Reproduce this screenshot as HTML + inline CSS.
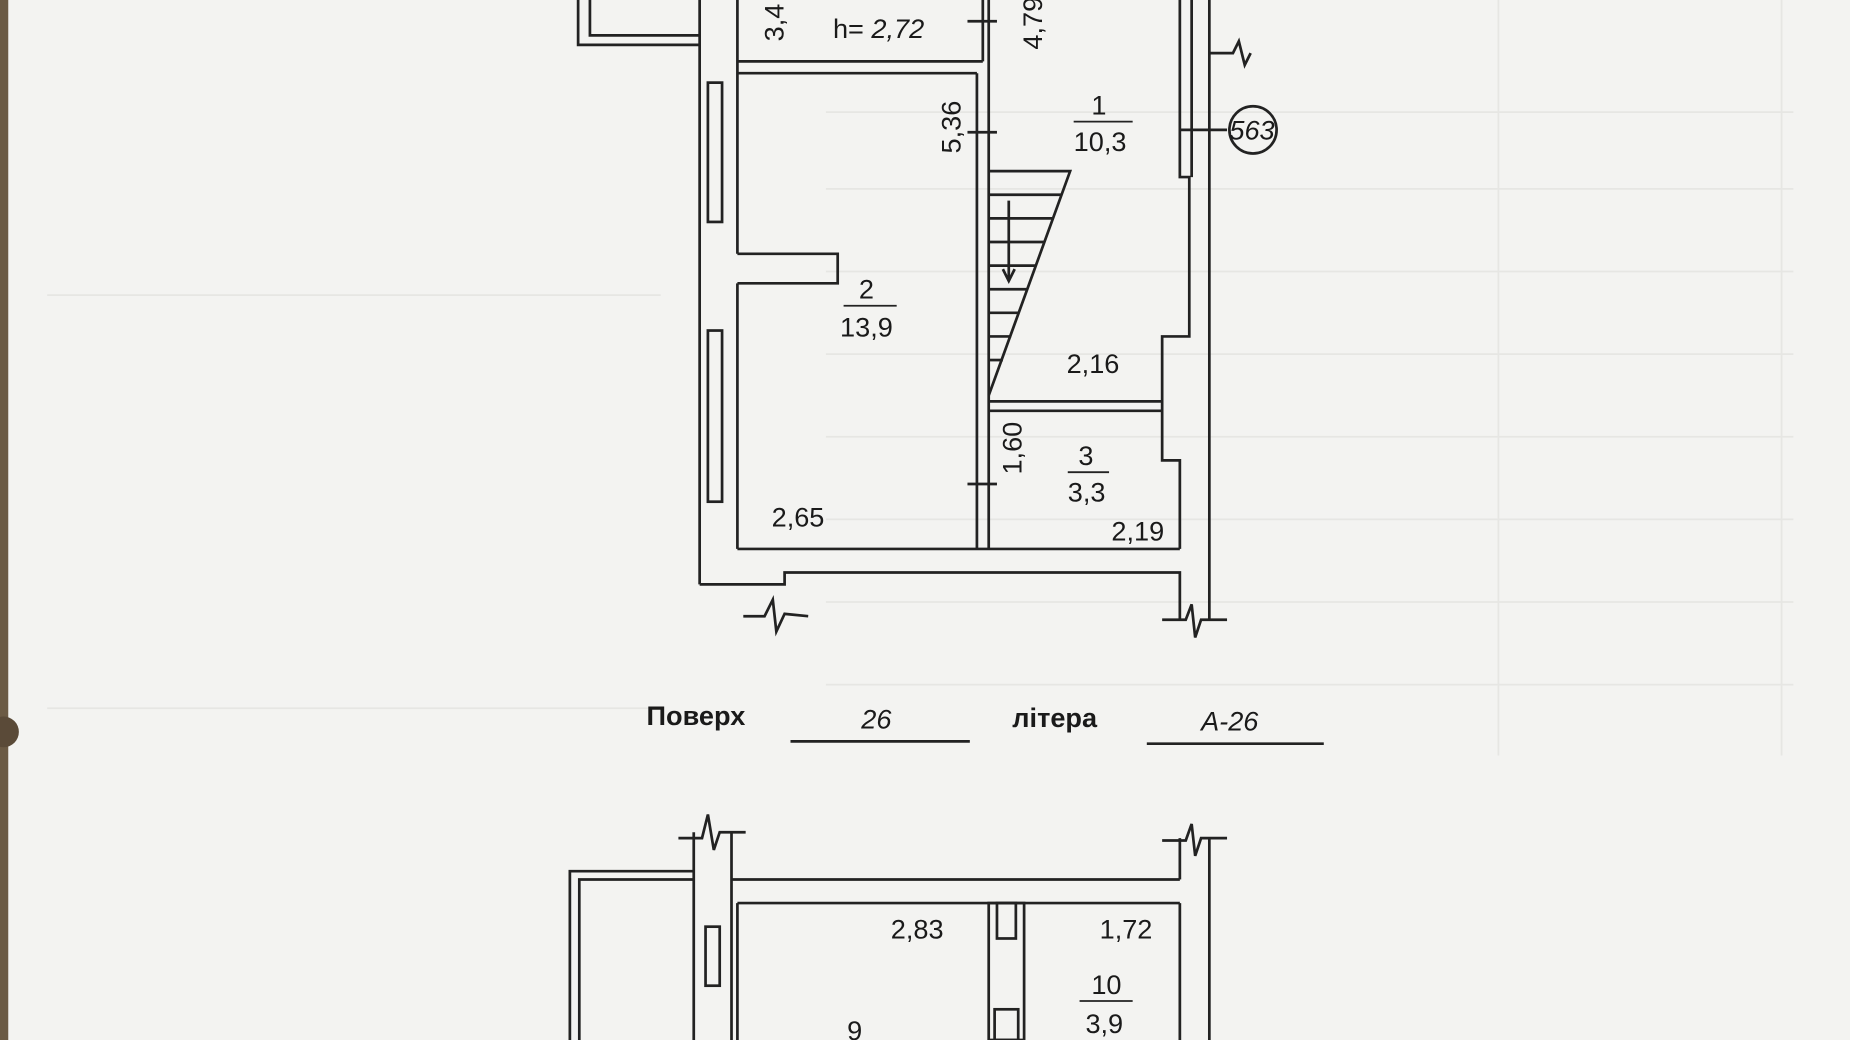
<!DOCTYPE html>
<html><head><meta charset="utf-8"><style>
html,body{margin:0;padding:0;background:#f3f3f1;}
svg{display:block}
text{font-family:"Liberation Sans",sans-serif;fill:#1a1a1a}
</style></head><body>
<svg width="1850" height="1040" viewBox="0 0 1568 881" preserveAspectRatio="none" xmlns="http://www.w3.org/2000/svg">
<rect width="1568" height="881" fill="#f3f3f1"/>
<g stroke="#e6e6e3" stroke-width="1.5" fill="none">
<line x1="700" y1="95" x2="1520" y2="95"/><line x1="700" y1="160" x2="1520" y2="160"/>
<line x1="700" y1="230" x2="1520" y2="230"/><line x1="700" y1="300" x2="1520" y2="300"/>
<line x1="700" y1="370" x2="1520" y2="370"/><line x1="700" y1="440" x2="1520" y2="440"/>
<line x1="700" y1="510" x2="1520" y2="510"/><line x1="700" y1="580" x2="1520" y2="580"/>
<line x1="1270" y1="0" x2="1270" y2="640"/><line x1="1510" y1="0" x2="1510" y2="640"/>
<line x1="40" y1="250" x2="560" y2="250"/><line x1="40" y1="600" x2="560" y2="600"/>
</g>
<rect x="0" y="0" width="7" height="881" fill="#6b5a44"/>
<circle cx="3" cy="620" r="13" fill="#5a4a38"/>
<g stroke="#222" stroke-width="2.3" fill="none">
<polyline points="490,0 490,38 593,38"/><polyline points="500,0 500,30 593,30"/>
<line x1="593" y1="0" x2="593" y2="495"/><line x1="625" y1="0" x2="625" y2="215"/>
<line x1="625" y1="240" x2="625" y2="465"/>
<rect x="600" y="70" width="12" height="118"/><rect x="600" y="280" width="12" height="145"/>
<polyline points="625,215 710,215 710,240 625,240"/>
<line x1="625" y1="52" x2="833" y2="52"/><line x1="625" y1="62" x2="828" y2="62"/>
<line x1="833" y1="0" x2="833" y2="52"/>
<line x1="828" y1="62" x2="828" y2="465"/><line x1="838" y1="0" x2="838" y2="465"/>
<line x1="625" y1="465" x2="1000" y2="465"/>
<polyline points="593,495 665,495 665,485 1000,485 1000,525"/>
<polyline points="630,522 648,522 655,508 658,535 665,520 685,522"/>
<polyline points="985,525 1005,525 1010,512 1013,540 1018,525 1040,525"/>
<polyline points="1000,0 1000,150 1008,150 1008,285 985,285 985,390 1000,390 1000,465"/>
<line x1="1025" y1="0" x2="1025" y2="525"/>
<line x1="1010" y1="0" x2="1010" y2="150"/>
<polyline points="1025,45 1045,45 1050,35 1055,55 1060,45"/>
<polyline points="838,145 907,145 838,335"/>
<line x1="855" y1="170" x2="855" y2="238"/><polyline points="850,228 855,238 860,228"/>
<line x1="838" y1="165" x2="900" y2="165"/><line x1="838" y1="185" x2="892" y2="185"/>
<line x1="838" y1="205" x2="885" y2="205"/><line x1="838" y1="225" x2="878" y2="225"/>
<line x1="838" y1="245" x2="871" y2="245"/><line x1="838" y1="265" x2="864" y2="265"/>
<line x1="838" y1="285" x2="857" y2="285"/><line x1="838" y1="305" x2="850" y2="305"/>
<line x1="838" y1="340" x2="985" y2="340"/><line x1="838" y1="348" x2="985" y2="348"/>
<line x1="820" y1="18" x2="845" y2="18"/><line x1="820" y1="112" x2="845" y2="112"/>
<line x1="820" y1="410" x2="845" y2="410"/><line x1="1000" y1="110" x2="1040" y2="110"/>
<circle cx="1062" cy="110" r="20"/>
<line x1="670" y1="628" x2="822" y2="628"/><line x1="972" y1="630" x2="1122" y2="630"/>
<polyline points="483,881 483,738 588,738"/><polyline points="491,881 491,745 588,745"/>
<line x1="588" y1="705" x2="588" y2="881"/><line x1="620" y1="705" x2="620" y2="881"/>
<polyline points="575,710 595,710 600,690 605,720 610,705 632,705"/>
<line x1="620" y1="745" x2="1000" y2="745"/><line x1="625" y1="765" x2="1000" y2="765"/>
<line x1="625" y1="765" x2="625" y2="881"/>
<rect x="598" y="785" width="12" height="50"/>
<line x1="1000" y1="710" x2="1000" y2="745"/><line x1="1025" y1="710" x2="1025" y2="881"/>
<polyline points="985,712 1005,712 1010,698 1013,725 1018,710 1040,710"/>
<line x1="1000" y1="765" x2="1000" y2="881"/>
<rect x="838" y="765" width="30" height="116"/><rect x="845" y="765" width="16" height="30"/>
<rect x="843" y="855" width="20" height="26"/>
</g>
<g font-size="23">
<text x="706" y="32">h= <tspan font-style="italic">2,72</tspan></text>
<text x="664" y="35" transform="rotate(-90 664 35)">3,4</text>
<text x="883" y="42" transform="rotate(-90 883 42)">4,79</text>
<text x="814" y="130" transform="rotate(-90 814 130)">5,36</text>
<text x="925" y="97">1</text><line x1="910" y1="103" x2="960" y2="103" stroke="#222" stroke-width="1.5"/>
<text x="910" y="128">10,3</text>
<text x="1042" y="118" font-style="italic">563</text>
<text x="728" y="253">2</text><line x1="715" y1="259" x2="760" y2="259" stroke="#222" stroke-width="1.5"/>
<text x="712" y="285">13,9</text>
<text x="904" y="316">2,16</text>
<text x="866" y="402" transform="rotate(-90 866 402)">1,60</text>
<text x="914" y="394">3</text><line x1="905" y1="400" x2="940" y2="400" stroke="#222" stroke-width="1.5"/>
<text x="905" y="425">3,3</text>
<text x="654" y="446">2,65</text>
<text x="942" y="458">2,19</text>
<text x="548" y="614" font-weight="600">Поверх</text>
<text x="730" y="617" font-style="italic">26</text>
<text x="858" y="616" font-weight="600">літера</text>
<text x="1018" y="619" font-style="italic">А-26</text>
<text x="755" y="795">2,83</text>
<text x="932" y="795">1,72</text>
<text x="925" y="842">10</text><line x1="915" y1="848" x2="960" y2="848" stroke="#222" stroke-width="1.5"/>
<text x="920" y="875">3,9</text>
<text x="718" y="881">9</text>
</g>
</svg>
</body></html>
